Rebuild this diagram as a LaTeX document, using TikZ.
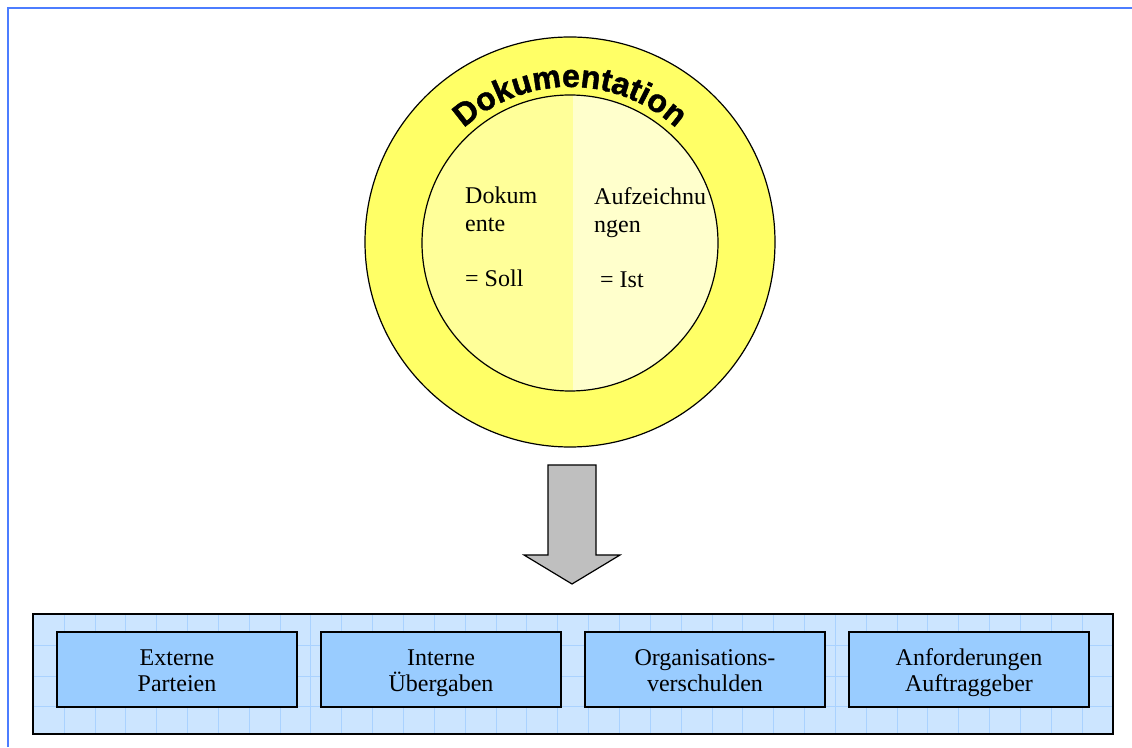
\documentclass[tikz,border=0pt]{standalone}
\usepackage{fontspec}
\setmainfont{Liberation Serif}
\newfontfamily\arcfont{Liberation Sans}[FakeBold=1.5]
\usetikzlibrary{decorations.text}
\definecolor{ringyellow}{HTML}{FFFF66}
\definecolor{sollyellow}{HTML}{FFFF99}
\definecolor{istyellow}{HTML}{FFFFCC}
\definecolor{panelblue}{HTML}{CCE5FF}
\definecolor{gridblue}{HTML}{AAD2FF}
\definecolor{boxblue}{HTML}{99CCFF}
\definecolor{frameblue}{HTML}{4C7DFF}
% same line height in every box
\newcommand{\topstrut}{\rule{0pt}{24pt}}
\newcommand{\botstrut}{\rule[-7pt]{0pt}{7pt}}

\begin{document}
\begin{tikzpicture}[x=1pt,y=1pt]
  \tikzstyle{every node}=[font=\fontsize{24}{28}\selectfont]
  \tikzstyle{area}=[rectangle,draw,line width=1.6pt,fill=boxblue,minimum width=240pt,minimum height=75pt,align=center,font=\fontsize{24}{26}\selectfont]
  \tikzstyle{half}=[anchor=north west,inner sep=0pt,align=left]
  \useasboundingbox (0,0) rectangle (1132,747);

  % frame
  \draw[frameblue,line width=2pt] (8,0) -- (8,739) -- (1132,739);

  % circles
  \draw[line width=1.2pt,fill=ringyellow] (570,505) circle (205);
  \begin{scope}
    \clip (570,504) circle (148);
    \fill[sollyellow] (420,350) rectangle (573,660);
    \fill[istyellow] (573,350) rectangle (720,660);
  \end{scope}
  \draw[line width=1.2pt] (570,504) circle (148);
  \path[decorate,decoration={text along path,text align=center,
    text={|\arcfont\bfseries\fontsize{32}{32}\selectfont|Dokumentation}}]
    (570,503) ++(150:157) arc[start angle=150,end angle=30,radius=157];

  \node[half] (soll) at (465,560) {Dokum\\ente\\[27pt]= Soll};
  \node[half] (ist) at (594,560) {Aufzeichnu\\ngen\\[27pt]\hspace{6pt}= Ist};

  % arrow
  \draw[line width=1.2pt,fill=black!25] (548,282) -- (596,282) -- (596,192) -- (620,192)
    -- (572,163) -- (524,192) -- (548,192) -- cycle;

  % panel
  \fill[panelblue] (33,13) rectangle (1113,133);
  \foreach \gx in {1,...,34}
    \draw[gridblue] (33+30.85*\gx,13) -- (33+30.85*\gx,133);
  \foreach \gy in {1,2,3}
    \draw[gridblue] (33,133-30.85*\gy) -- (1113,133-30.85*\gy);
  \draw[line width=1.6pt] (33,13) rectangle (1113,133);

  \node[area] (extern) at (177,77.5) {\topstrut Externe\\Parteien\botstrut};
  \node[area] (intern) at (441,77.5) {\topstrut Interne\\Übergaben\botstrut};
  \node[area] (orga) at (705,77.5) {\topstrut Organisations-\\verschulden\botstrut};
  \node[area] (auftrag) at (969,77.5) {\topstrut Anforderungen\\Auftraggeber\botstrut};
\end{tikzpicture}
\end{document}
